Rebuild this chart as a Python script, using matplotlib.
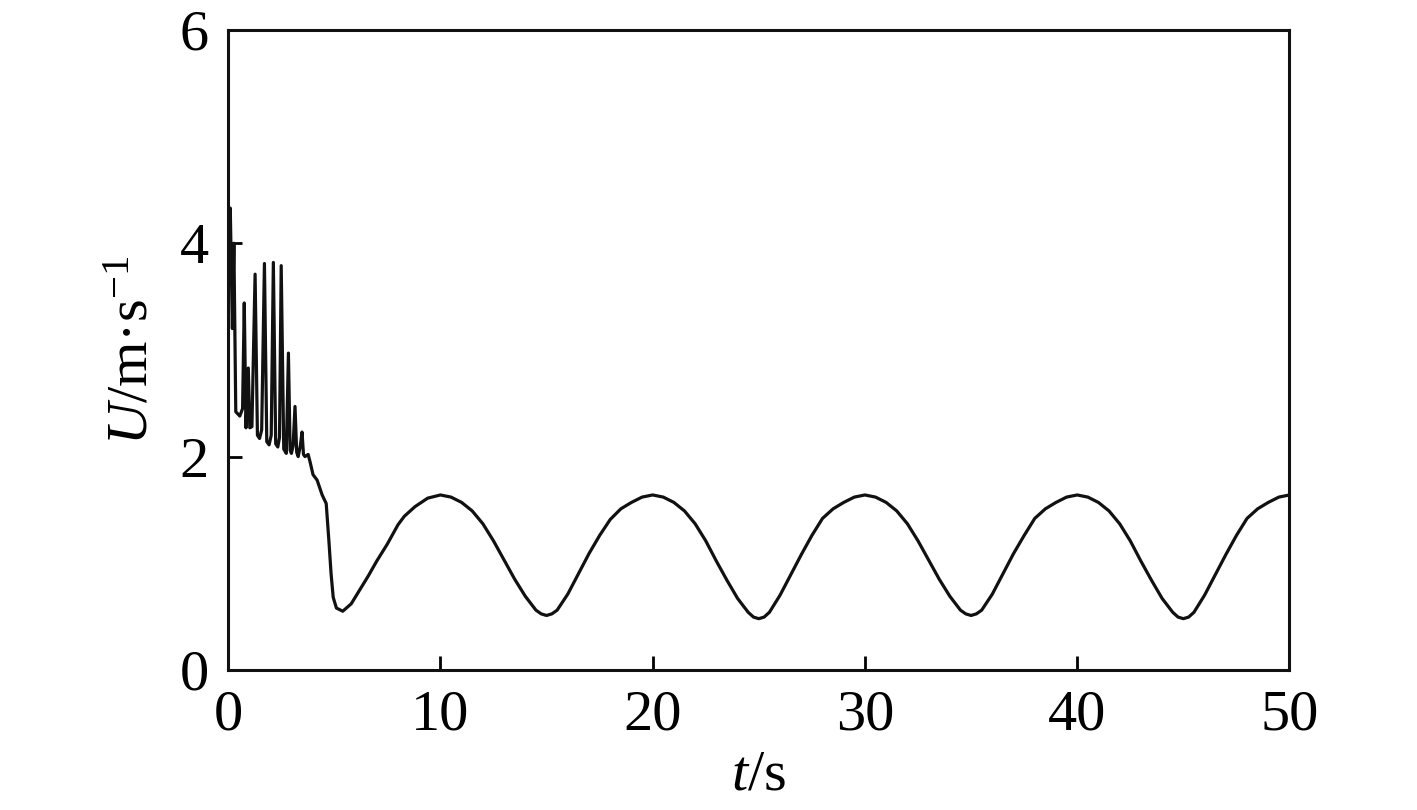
import numpy as np
import matplotlib
matplotlib.use("Agg")
import matplotlib.pyplot as plt

plt.rcParams['font.family'] = ['Liberation Serif', 'DejaVu Serif']
plt.rcParams['mathtext.fontset'] = 'custom'
plt.rcParams['mathtext.rm'] = 'Liberation Serif'
plt.rcParams['mathtext.it'] = 'Liberation Serif:italic'

# transient part
t_start = [0.0, 0.1, 0.2, 0.27, 0.36, 0.55, 0.68, 0.76, 0.84, 0.95, 1.02, 1.12,
           1.27, 1.38, 1.48, 1.58, 1.71, 1.82, 1.93, 2.03, 2.13, 2.24, 2.34, 2.42,
           2.50, 2.62, 2.74, 2.84, 2.92, 2.98, 3.06, 3.15, 3.23, 3.30, 3.40, 3.48,
           3.55, 3.62, 3.77, 3.86, 4.0, 4.19, 4.43, 4.62, 4.75, 4.85, 4.95, 5.1,
           5.4, 5.8, 6.2, 6.6, 7.0, 7.5, 8.0, 8.3, 8.8, 9.4]
u_start = [3.9, 4.33, 3.2, 4.0, 2.42, 2.38, 2.45, 3.44, 2.27, 2.83, 2.27, 2.28,
           3.71, 2.2, 2.17, 2.25, 3.81, 2.14, 2.11, 2.2, 3.82, 2.12, 2.09, 2.18,
           3.79, 2.07, 2.03, 2.97, 2.06, 2.03, 2.1, 2.47, 2.04, 2.0, 2.1, 2.23,
           2.02, 2.0, 2.02, 1.95, 1.83, 1.78, 1.64, 1.56, 1.2, 0.9, 0.68, 0.58,
           0.55, 0.62, 0.75, 0.88, 1.02, 1.18, 1.36, 1.44, 1.53, 1.61]

# periodic part, every 0.5 s from t = 10 to 50
t_per = list(np.arange(10.0, 50.01, 0.5))
u_per = [1.64, 1.62, 1.57, 1.49, 1.37, 1.21, 1.03, 0.85, 0.69, 0.56,
         0.51, 0.56, 0.71, 0.90, 1.09, 1.26, 1.41, 1.51, 1.57, 1.62,
         1.64, 1.62, 1.57, 1.49, 1.37, 1.21, 1.02, 0.84, 0.67, 0.54,
         0.48, 0.54, 0.70, 0.89, 1.08, 1.26, 1.42, 1.51, 1.57, 1.62,
         1.64, 1.62, 1.57, 1.49, 1.37, 1.21, 1.03, 0.85, 0.69, 0.56,
         0.51, 0.56, 0.71, 0.90, 1.09, 1.26, 1.42, 1.51, 1.57, 1.62,
         1.64, 1.62, 1.57, 1.49, 1.37, 1.21, 1.02, 0.84, 0.67, 0.54,
         0.48, 0.54, 0.70, 0.89, 1.08, 1.26, 1.42, 1.51, 1.57, 1.62,
         1.64]

# extra readings around the troughs
t_trough = [14.75, 15.25, 24.75, 25.25, 34.75, 35.25, 44.75, 45.25]
u_trough = [0.525, 0.525, 0.495, 0.495, 0.525, 0.525, 0.495, 0.495]

t_all = np.array(t_start + t_per + t_trough)
u_all = np.array(u_start + u_per + u_trough)
order = np.argsort(t_all, kind='stable')
t = t_all[order]
u = u_all[order]

fig = plt.figure(figsize=(14.17, 8.10), dpi=100)
ax = fig.add_axes([0.161, 0.173, 0.749, 0.790])
ax.plot(t, u, color='#111111', lw=2.3)

ax.set_xlim(0, 50)
ax.set_ylim(0, 6)
ax.set_xticks([0, 10, 20, 30, 40, 50])
ax.set_yticks([0, 2, 4, 6])
ax.tick_params(direction='in', length=10, width=2, labelsize=42, pad=14,
               top=False, right=False)
for s in ax.spines.values():
    s.set_linewidth(2.2)
    s.set_color('#111111')

ax.set_xlabel('$\\mathit{t}$/s', fontsize=42, labelpad=6)
ax.set_ylabel('$\\mathit{U}$/m·s$^{-1}$', fontsize=42, labelpad=14)

fig.savefig('out.png', dpi=100)
